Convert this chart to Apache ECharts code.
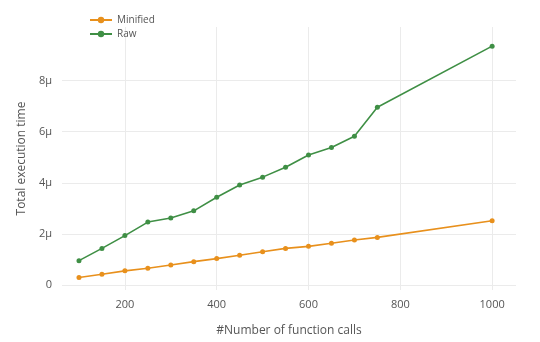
<!DOCTYPE html>
<html>
<head>
<meta charset="utf-8">
<script src="https://cdn.jsdelivr.net/npm/echarts@6/dist/echarts.min.js"></script>
<style>
  html, body { margin: 0; padding: 0; background: #fff; }
  #chart { width: 540px; height: 342px; }
</style>
</head>
<body>
<div id="chart"></div>
<script>
// Number of function calls for each measurement
const minifiedCalls = [100, 150, 200, 250, 300, 350, 400, 450, 500, 550, 600, 650, 700, 750, 1000];
const rawCalls      = [100, 150, 200, 250, 300, 350, 400, 450, 500, 550, 600, 650, 700, 750, 1000];

// Total execution time, in microseconds
const minifiedTime = [0.29, 0.42, 0.55, 0.65, 0.78, 0.91, 1.03, 1.16, 1.30, 1.43, 1.51, 1.63, 1.76, 1.86, 2.51];
const rawTime      = [0.95, 1.43, 1.93, 2.46, 2.62, 2.90, 3.43, 3.91, 4.22, 4.61, 5.09, 5.38, 5.82, 6.96, 9.35];

// Tick positions on both axes
const xTicks = [200, 400, 600, 800, 1000];
const yTicks = [0, 2, 4, 6, 8];

const seriesNames = ['Minified', 'Raw'];
const seriesColors = ['#e8901c', '#3f8f45'];

const FONT = '"Open Sans", "Noto Sans", sans-serif';
const TEXT = '#555';
const GRID = '#ebebeb';

function pairs(xs, ys) { return xs.map((x, i) => [x, ys[i]]); }

const chart = echarts.init(document.getElementById('chart'), null, { renderer: 'canvas' });

function lineSeries(name, data, color) {
  return {
    name: name,
    type: 'line',
    data: data,
    symbol: 'circle',
    symbolSize: 5,
    showSymbol: true,
    lineStyle: { color: color, width: 1.6 },
    itemStyle: { color: color },
    emphasis: { disabled: true },
    z: 10
  };
}

// Gridlines placed at the tick values through the axis scales
const gridSeries = {
  name: 'grid',
  type: 'line',
  data: [],
  silent: true,
  z: 1,
  markLine: {
    silent: true,
    z: 1,
    symbol: 'none',
    label: { show: false },
    lineStyle: { color: GRID, width: 1, type: 'solid' },
    emphasis: { disabled: true },
    data: xTicks.map(v => ({ xAxis: v })).concat(yTicks.map(v => ({ yAxis: v })))
  }
};

const hiddenAxisParts = {
  axisLine: { show: false },
  axisTick: { show: false },
  splitLine: { show: false },
  splitArea: { show: false },
  minorTick: { show: false },
  minorSplitLine: { show: false }
};

chart.setOption({
  animation: false,
  backgroundColor: '#fff',
  color: seriesColors,
  legend: {
    orient: 'vertical',
    left: 84,
    top: 10,
    itemGap: 4,
    itemWidth: 22,
    itemHeight: 8,
    textStyle: { fontFamily: FONT, fontSize: 10, color: TEXT },
    data: seriesNames
  },
  grid: { show: false, borderWidth: 0, left: 62, right: 24, top: 27, bottom: 51, containLabel: false },
  xAxis: Object.assign({
    type: 'value',
    min: 63,
    max: 1052,
    name: '#Number of function calls',
    nameLocation: 'middle',
    nameGap: 35,
    nameTextStyle: { fontFamily: FONT, fontSize: 12, color: TEXT },
    axisLabel: {
      fontFamily: FONT, fontSize: 11, color: TEXT, margin: 9,
      customValues: xTicks,
      formatter: v => String(v)
    }
  }, hiddenAxisParts),
  yAxis: Object.assign({
    type: 'value',
    min: -0.2,
    max: 10.1,
    name: 'Total execution time',
    nameLocation: 'middle',
    nameGap: 34,
    nameTextStyle: { fontFamily: FONT, fontSize: 12, color: TEXT },
    axisLabel: {
      fontFamily: FONT, fontSize: 11, color: TEXT, margin: 10,
      customValues: yTicks,
      formatter: v => (v === 0 ? '0' : v + 'μ')
    }
  }, hiddenAxisParts),
  series: [
    gridSeries,
    lineSeries(seriesNames[0], pairs(minifiedCalls, minifiedTime), seriesColors[0]),
    lineSeries(seriesNames[1], pairs(rawCalls, rawTime), seriesColors[1])
  ]
});
</script>
</body>
</html>
